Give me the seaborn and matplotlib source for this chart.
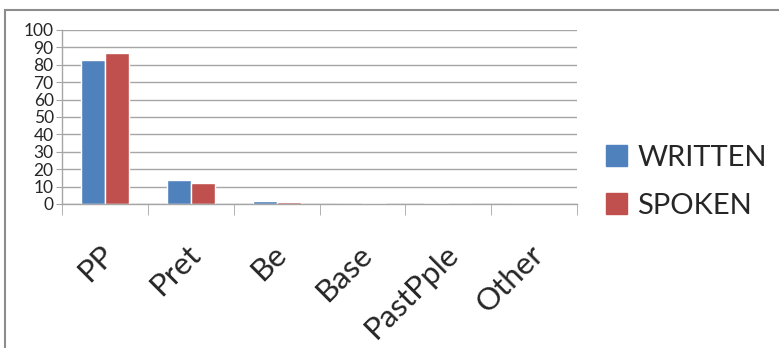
import matplotlib
matplotlib.use('Agg')
import matplotlib.pyplot as plt
import matplotlib.patches as mpatches
import matplotlib.transforms as mtransforms
import seaborn as sns
import pandas as pd
import numpy as np

# Values
categories = ['PP', 'Pret', 'Be', 'Base', 'PastPple', 'Other']
written = [83, 14, 2, 0, 0.5, 0]
spoken = [87, 12, 1, 0.5, 0, 0]
series_names = ['WRITTEN', 'SPOKEN']
colors = ['#4F81BD', '#C0504D']

df = pd.DataFrame({
    'category': categories * 2,
    'value': written + spoken,
    'series': [series_names[0]] * len(categories) + [series_names[1]] * len(categories),
})

sns.set_style('white')
plt.rcParams['font.family'] = ['Lato', 'DejaVu Sans']

fig = plt.figure(figsize=(7.79, 3.48), dpi=100)
ax = fig.add_axes([0.0796, 0.4138, 0.6611, 0.5])

sns.barplot(data=df, x='category', y='value', hue='series', order=categories,
            hue_order=series_names, palette=colors, width=0.56, saturation=1,
            ax=ax, legend=False)

grid_c = '#a6a6a6'
ax.set_ylim(0, 100)
ax.set_xlim(-0.5, len(categories) - 0.5)
ax.set_yticks(range(0, 101, 10))
ax.yaxis.grid(True, color=grid_c, linewidth=1)
ax.set_axisbelow(True)
for s in ['top', 'right']:
    ax.spines[s].set_visible(False)
for s in ['left', 'bottom']:
    ax.spines[s].set_color(grid_c)
    ax.spines[s].set_linewidth(1)

ax.set_xlabel('')
ax.set_ylabel('')
ax.tick_params(axis='y', length=4, color=grid_c, labelsize=12.5, pad=2, left=True)
ax.set_xticks(np.arange(-0.5, len(categories)), minor=True)
ax.tick_params(axis='x', which='minor', length=8, color=grid_c, bottom=True)
ax.tick_params(axis='x', which='major', length=0, labelsize=22.5, pad=26)
shift = mtransforms.ScaledTranslation(-5 / 100, 0, fig.dpi_scale_trans)
for lbl in ax.get_xticklabels():
    lbl.set_rotation(45)
    lbl.set_ha('right')
    lbl.set_va('top')
    lbl.set_rotation_mode('anchor')
    lbl.set_transform(lbl.get_transform() + shift)

handles = [mpatches.Patch(color=c, label=n) for c, n in zip(colors, series_names)]
fig.legend(handles=handles, loc='center left', bbox_to_anchor=(0.744, 0.478),
           frameon=False, fontsize=21, handlelength=0.72, handleheight=0.72,
           handletextpad=0.36, labelspacing=0.75)

# outer chart frame (top and left edges visible)
fig.add_artist(mpatches.Rectangle((5 / 779, -0.1), 1.2, 1 - 10 / 348 + 0.1,
                                  transform=fig.transFigure, fill=False,
                                  edgecolor='#8c8c8c', linewidth=1.5))

fig.savefig('out.png', dpi=100)
